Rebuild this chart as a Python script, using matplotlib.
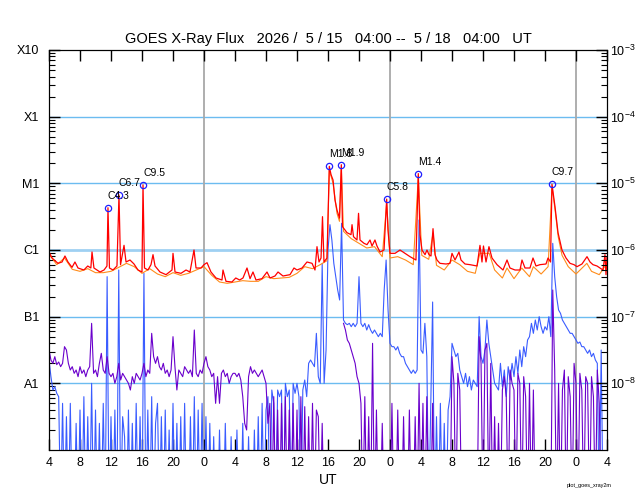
import numpy as np
import matplotlib
matplotlib.use("Agg")
import matplotlib.pyplot as plt
from matplotlib.ticker import LogLocator, NullFormatter

plt.rcParams['font.family'] = ['Liberation Sans', 'DejaVu Sans']
plt.rcParams['mathtext.default'] = 'regular'

# hours after 2026-05-15 04:00 UT, values are log10(W/m^2)
# long channel (1-8 A), primary satellite
long_t = [0, 0.39, 1.16, 1.68, 2.06, 2.45, 2.97, 3.35, 3.74, 4.5,
          5.0, 5.4, 5.55, 5.8, 6.58, 7.1, 7.48, 7.61, 7.8, 8.26,
          8.77, 9.03, 9.23, 9.68, 9.94, 10.45, 10.97, 11.48, 12.0, 12.13,
          12.32, 12.77, 13.16, 13.42, 13.68, 14.32, 15.1, 15.87, 16.0, 16.26,
          17.03, 17.68, 18.19, 18.71, 18.97, 19.61, 20.0, 20.39, 20.9, 21.55,
          22.32, 22.45, 22.84, 23.6, 24.1, 24.6, 25.03, 25.55, 25.94, 26.32,
          26.71, 27.48, 28.13, 28.52, 29.16, 29.55, 30.19, 31.1, 31.61, 32.0,
          32.65, 33.29, 33.94, 34.32, 34.58, 34.84, 35.1, 35.29, 35.48, 35.87,
          36.17, 36.39, 36.65, 36.9, 37.16, 37.48, 37.72, 37.87, 38.45, 38.97,
          39.1, 39.29, 39.74, 39.94, 40.13, 40.65, 41.03, 41.42, 41.68, 42.06,
          42.32, 42.71, 43.23, 43.57, 43.74, 44.0, 44.65, 45.29, 45.94, 46.58,
          47.35, 47.65, 47.87, 48.13, 48.52, 48.77, 49.03, 49.29, 49.55, 49.81,
          50.06, 50.45, 51.23, 51.74, 52.0, 52.39, 52.9, 53.16, 53.68, 54.32,
          55.23, 55.61, 55.87, 56.06, 56.39, 56.77, 57.16, 57.81, 58.58, 59.1,
          59.48, 60.13, 60.77, 61.03, 61.42, 62.06, 62.45, 62.84, 63.35, 64.13,
          64.39, 64.71, 64.9, 65.29, 65.68, 66.19, 66.71, 67.23, 67.74, 68.13,
          68.77, 69.42, 69.81, 70.19, 70.71, 71.1, 71.48, 71.74, 71.87, 72.0]
long_log = [-6.03, -6.12, -6.2, -6.18, -6.09, -6.18, -6.26, -6.18, -6.27, -6.3,
            -6.24, -6.27, -6.03, -6.27, -6.33, -6.3, -6.24, -5.366, -6.27, -6.3,
            -6.24, -5.174, -6.22, -5.93, -6.18, -6.15, -6.21, -6.3, -6.33, -5.022,
            -6.27, -6.3, -6.22, -6.07, -6.24, -6.33, -6.37, -6.3, -6.05, -6.33,
            -6.35, -6.3, -6.33, -6.0, -6.27, -6.27, -6.22, -6.19, -6.33, -6.42,
            -6.45, -6.3, -6.47, -6.48, -6.42, -6.45, -6.42, -6.27, -6.43, -6.33,
            -6.45, -6.43, -6.33, -6.42, -6.39, -6.33, -6.39, -6.37, -6.27, -6.3,
            -6.27, -6.18, -6.2, -6.3, -5.95, -6.18, -6.12, -5.5, -6.18, -6.12,
            -4.745, -4.87, -4.95, -5.25, -5.4, -5.52, -4.721, -5.65, -5.74, -5.77,
            -5.62, -5.8, -5.85, -5.45, -5.85, -5.9, -5.92, -5.85, -5.94, -5.85,
            -5.94, -6.03, -6.0, -5.237, -5.7, -6.05, -6.05, -6.0, -6.05, -6.1,
            -6.15, -4.854, -5.77, -6.0, -6.07, -6.0, -6.07, -6.09, -5.68, -6.07,
            -6.15, -6.2, -6.21, -6.2, -6.05, -6.15, -6.03, -6.15, -6.21, -6.22,
            -6.24, -5.93, -6.18, -5.94, -6.18, -5.95, -6.12, -6.22, -6.3, -6.15,
            -6.27, -6.3, -6.3, -6.15, -6.27, -6.27, -6.12, -6.24, -6.22, -6.21,
            -6.12, -6.18, -5.013, -5.35, -5.74, -6.0, -6.12, -6.2, -6.22, -6.25,
            -6.21, -6.1, -6.18, -6.22, -6.24, -6.27, -6.3, -6.07, -6.37, -6.1]

# long channel, secondary satellite
long2_t = [0, 1, 2, 3, 4, 5, 6, 7, 8, 9,
           10, 11, 12, 13, 14, 15, 16, 17, 18, 19,
           20, 21, 22, 23, 24, 25, 26, 27, 28, 29,
           30, 31, 32, 33, 34, 35, 35.87, 36.17, 36.65, 37.16,
           37.48, 37.72, 38, 39, 40, 41, 42, 43, 43.57, 44,
           45, 46, 47, 47.65, 48.1, 49, 49.55, 50, 51, 52,
           53, 54, 55, 55.6, 56, 56.8, 57.5, 58.5, 59.1, 60,
           61, 62, 62.5, 63.5, 64.4, 64.9, 65.3, 65.7, 66.2, 67,
           68, 69.4, 70, 71, 72]
long2_log = [-6.06, -6.22, -6.12, -6.29, -6.32, -6.28, -6.34, -6.34, -6.32, -6.26,
             -6.2, -6.25, -6.35, -6.28, -6.36, -6.4, -6.34, -6.38, -6.35, -6.3,
             -6.25, -6.38, -6.48, -6.5, -6.48, -6.46, -6.47, -6.47, -6.4, -6.43,
             -6.42, -6.41, -6.35, -6.25, -6.28, -6.22, -6.16, -4.8, -5.0, -5.45,
             -5.57, -4.78, -5.72, -5.83, -5.9, -5.97, -5.95, -6.1, -5.3, -6.12,
             -6.1, -6.15, -6.22, -4.9, -6.08, -6.14, -5.75, -6.23, -6.3, -6.15,
             -6.22, -6.32, -6.35, -6.05, -6.05, -6.05, -6.3, -6.42, -6.27, -6.43,
             -6.27, -6.4, -6.25, -6.36, -6.25, -5.05, -5.4, -5.8, -6.08, -6.25,
             -6.36, -6.2, -6.32, -6.37, -6.2]

# short channel (0.5-4 A), 15 min samples; -10 = below the plot floor
short_step = 0.25
short_log = [
    -7.65, -7.9, -8.1, -8.05, -8.15, -8.2, -10, -8.3,
    -10, -8.5, -10, -8.3, -10, -10, -8.6, -10,
    -8.4, -10, -8.2, -10, -8.5, -10, -8.0, -10,
    -8.4, -10, -8.6, -10, -8.3, -10, -6.4, -10,
    -8.5, -10, -8.4, -10, -6.3, -10, -8.5, -8.8,
    -10, -8.4, -10, -8.6, -10, -8.3, -10, -8.5,
    -10, -6.35, -10, -8.4, -10, -8.2, -10, -8.6,
    -8.3, -10, -8.5, -10, -8.4, -10, -8.7, -10,
    -8.3, -10, -8.6, -10, -8.5, -10, -8.3, -10,
    -10, -8.5, -10, -8.2, -10, -8.4, -10, -8.3,
    -10, -8.5, -10, -8.6, -10, -8.8, -10, -10,
    -8.7, -10, -10, -8.6, -10, -10, -8.8, -10,
    -10, -8.7, -10, -10, -8.6, -10, -10, -8.8,
    -10, -10, -8.7, -10, -8.5, -10, -8.3, -10,
    -8.4, -8.2, -10, -8.1, -8.3, -10, -8.1, -8.2,
    -8.1, -10, -8.0, -8.2, -8.1, -10, -8.0, -8.15,
    -8.0, -8.2, -10, -8.1, -7.95, -8.2, -7.7, -7.65,
    -7.7, -7.75, -7.25, -7.9, -8.0, -6.2, -8.0, -7.5,
    -6.0, -5.62, -5.85, -6.2, -6.4, -6.6, -6.75, -5.6,
    -7.05, -7.1, -7.12, -7.1, -7.15, -7.1, -7.15, -7.1,
    -6.4, -7.1, -7.15, -7.1, -7.2, -7.12, -7.2, -7.25,
    -7.2, -7.25, -7.3, -7.25, -7.3, -6.6, -6.15, -6.9,
    -7.4, -7.45, -7.45, -7.5, -7.45, -7.55, -7.6, -7.6,
    -7.7, -7.75, -7.8, -7.85, -7.8, -7.85, -7.8, -5.55,
    -7.5, -7.55, -7.1, -7.6, -10, -8.4, -6.78, -10,
    -8.5, -10, -8.3, -10, -8.6, -10, -8.4, -8.2,
    -7.4, -7.5, -7.6, -7.55, -7.8, -7.9, -8.0, -7.85,
    -8.05, -7.9, -8.1, -7.95, -8.0, -8.05, -7.0, -7.6,
    -7.7, -7.5, -7.05, -7.4, -7.6, -7.8, -8.0, -8.05,
    -8.1, -7.7, -8.05, -7.8, -8.2, -7.75, -7.95, -7.7,
    -7.9, -7.6, -7.85, -7.5, -7.75, -7.45, -7.6, -7.35,
    -7.3, -7.1, -7.25, -7.05, -7.2, -7.0, -7.15, -7.25,
    -7.15, -7.2, -7.0, -7.3, -5.9, -6.4, -6.7, -6.9,
    -6.95, -7.05, -7.1, -7.15, -7.2, -7.25, -7.25, -7.3,
    -7.35, -7.4, -7.38, -7.45, -7.45, -7.5, -7.55, -7.5,
    -7.6, -7.55, -7.65, -7.7, -10, -7.5, -10, -10,
    -10]

nan = np.nan
# short channel, secondary satellite
short2_log = [
    -7.5, -7.65, -7.7, -7.6, -7.72, -7.68, -7.75, -7.7,
    -7.45, -7.5, -7.7, -7.8, -7.75, -7.85, -7.8, -7.9,
    -7.75, -7.85, -7.8, -7.9, -7.8, -7.75, -7.1, -7.85,
    -7.8, -7.9, -7.7, -7.55, -7.8, -7.85, -7.6, -7.85,
    -7.9, -7.85, -8.0, -7.9, -7.7, -7.95, -7.85, -7.9,
    -7.95, -8.0, -8.1, -7.9, -8.0, -7.85, -7.9, -7.95,
    -7.85, -7.7, -7.9, -7.8, -7.85, -7.25, -7.6, -7.7,
    -7.6, -7.75, -7.8, -7.7, -7.85, -7.8, -7.9, -7.8,
    -7.3, -7.75, -8.1, -7.8, -7.85, -7.9, -7.75, -7.8,
    -7.85, -7.8, -7.9, -7.2, -7.85, -7.9, -7.8, -7.85,
    -7.7, -7.6, -7.75, -7.8, -7.9, -7.85, -8.3, -7.9,
    -8.3, -7.85, -7.8, -7.9, -7.85, -8.0, -7.9, -7.85,
    -7.85, -7.9, -7.85, -7.95, -8.2, -8.6, -8.7, -7.9,
    -7.75, -7.85, -7.8, -7.85, -7.9, -7.85, -7.8, -7.9,
    -8.0, -8.6, -8.3, -10, -8.2, -10, -8.4, -10,
    -8.3, -10, -8.2, -10, -8.4, -10, -8.3, -10,
    -8.4, -10, -8.2, -10, -8.35, -10, -8.5, -10,
    -8.3, -10, -8.4, -8.5, -10, -8.6, -10, -10,
    nan, nan, nan, nan, nan, nan, nan, nan,
    -7.1, -7.2, -7.35, -7.4, -7.5, -7.6, -7.7, -7.9,
    -8.0, -8.3, -10, -8.2, -10, -8.5, -10, -7.4,
    -10, -8.4, -10, -10, -8.6, -10, -10, -10,
    -10, -8.3, -10, -10, -8.4, -10, -10, -8.5,
    -10, -10, -8.4, -10, -10, -8.5, -10, -8.0,
    -10, -8.3, -10, -8.2, -10, -10, -8.3, -10,
    -10, -10, -10, -10, -10, -10, -10, -10,
    -7.6, -8.0, -10, -7.85, -8.1, -10, -10, -10,
    -10, -10, -10, -10, -10, -10, -7.3, -7.7,
    -10, -7.5, -7.4, -10, -7.7, -10, -8.5, -10,
    -8.6, -10, -8.1, -7.9, -8.2, -10, -7.8, -8.0,
    -8.1, -10, -7.85, -8.0, -10, -7.9, -8.2, -10,
    -8.0, -10, -8.1, -10, -10, -10, -10, -10,
    -10, -10, -10, -10, -6.6, -7.8, -10, -8.0,
    -10, -8.1, -7.8, -10, -7.9, -8.2, -10, -7.7,
    -8.0, -10, -7.85, -8.1, -10, -7.9, -8.0, -10,
    -7.9, -8.2, -10, -7.8, -8.3, -10, -10, -10,
    -10]

flare_t = [7.61, 9.03, 12.13, 36.17, 37.72, 43.57, 47.65, 64.9]
flare_class = ['C4.3', 'C6.7', 'C9.5', 'M1.8', 'M1.9', 'C5.8', 'M1.4', 'C9.7']

class_base = {'A': 1e-8, 'B': 1e-7, 'C': 1e-6, 'M': 1e-5, 'X': 1e-4}
flare_flux = [class_base[c[0]] * float(c[1:]) for c in flare_class]

level_flux = [1e-8, 1e-7, 1e-6, 1e-5, 1e-4, 1e-3]
level_names = ['A1', 'B1', 'C1', 'M1', 'X1', 'X10']
level_pow = ['$10^{-8}$', '$10^{-7}$', '$10^{-6}$', '$10^{-5}$', '$10^{-4}$', '$10^{-3}$']
day_starts = [20, 44, 68]
hour_ticks = list(range(0, 73, 4))
hour_labels = [str((4 + h) % 24) for h in hour_ticks]

short_t = np.arange(len(short_log)) * short_step

fig = plt.figure(figsize=(6.4, 5), dpi=100)
ax = fig.add_axes([49 / 640, 50 / 500, 558 / 640, 400 / 500])
ax.set_yscale('log')
ax.set_xlim(0, 72)
ax.set_ylim(1e-9, 1e-3)

for f in level_flux[:-1]:
    if f == 1e-6:
        ax.axhline(f, color='#9fd0f2', lw=2.0, zorder=1)
    else:
        ax.axhline(f, color='#6cbcf0', lw=1.0, zorder=1)
for d in day_starts:
    ax.axvline(d, color='#a8a8a8', lw=1.3, zorder=1)

ax.plot(short_t, 10 ** np.array(short_log), color='#3a5cff', lw=0.8, zorder=2)
ax.plot(short_t, 10 ** np.array(short2_log), color='#6a00cc', lw=0.8, zorder=2)
ax.plot(long2_t, 10 ** np.array(long2_log), color='#ff8c1a', lw=0.8, zorder=3)
ax.plot(long_t, 10 ** np.array(long_log), color='#ff0000', lw=0.9, zorder=3)

ax.plot(flare_t, flare_flux, 'o', ms=4.5, mfc='none', mec='#2020ff', mew=0.9, zorder=4)
for t, f, c in zip(flare_t, flare_flux, flare_class):
    ax.annotate(c, (t, f), xytext=(0, 5), textcoords='offset points',
                ha='left', va='bottom', fontsize=7.5, zorder=5)

ax.set_xticks(hour_ticks)
ax.set_xticklabels(hour_labels, fontsize=9)
ax.set_xlabel('UT', fontsize=10, labelpad=3)
ax.tick_params(axis='x', direction='in', top=True, length=8, width=1, pad=5)

ax.set_yticks(level_flux)
ax.set_yticklabels(level_names, fontsize=9)
ax.yaxis.set_minor_locator(LogLocator(base=10, subs=np.arange(2, 10), numticks=20))
ax.yaxis.set_minor_formatter(NullFormatter())
ax.tick_params(axis='y', which='major', direction='in', length=8, width=1, pad=7)
ax.tick_params(axis='y', which='minor', direction='in', length=4, width=0.8)

ax2 = ax.twinx()
ax2.set_yscale('log')
ax2.set_ylim(1e-9, 1e-3)
ax2.set_yticks(level_flux)
ax2.set_yticklabels(level_pow, fontsize=9)
ax2.yaxis.set_minor_locator(LogLocator(base=10, subs=np.arange(2, 10), numticks=20))
ax2.yaxis.set_minor_formatter(NullFormatter())
ax2.tick_params(axis='y', which='major', direction='in', length=8, width=1, pad=2)
ax2.tick_params(axis='y', which='minor', direction='in', length=4, width=0.8)

ax.set_title('GOES X-Ray Flux   2026 /  5 / 15   04:00 --  5 / 18   04:00   UT',
             fontsize=10.5, pad=5)
fig.text(612 / 640, 1 - 486 / 500, 'plot_goes_xray2m', fontsize=4, ha='right', va='center')

fig.savefig('out.png', dpi=100)
